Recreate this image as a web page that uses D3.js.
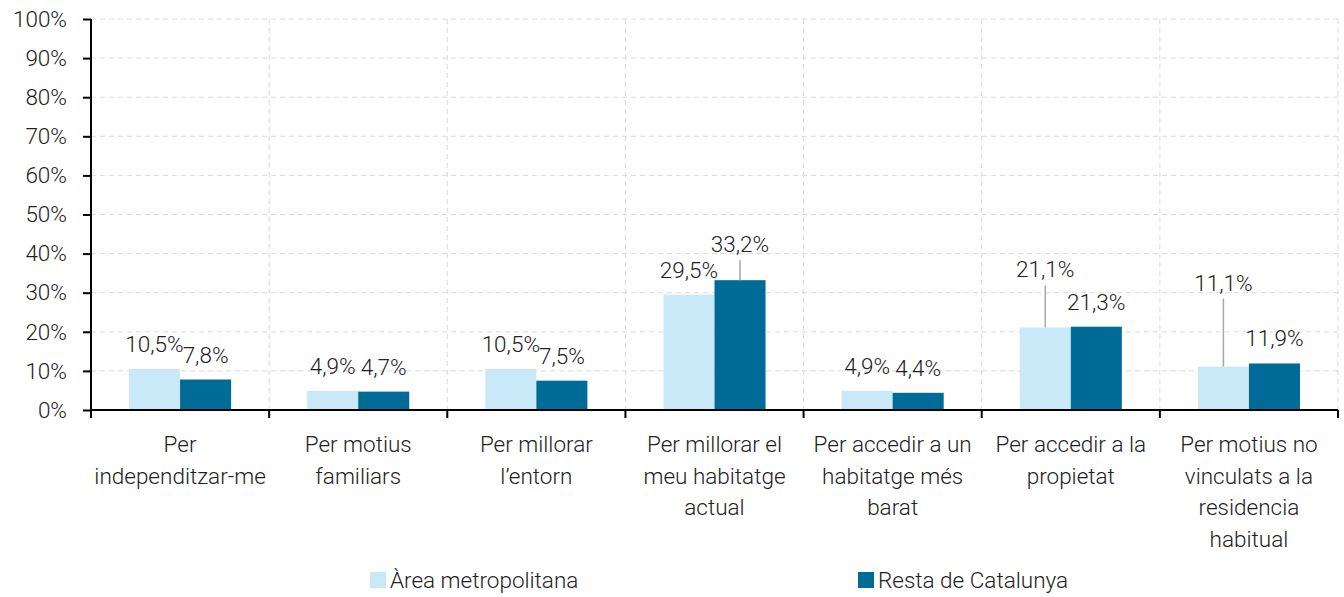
<!DOCTYPE html>
<html>
<head>
<meta charset="utf-8">
<script src="https://cdn.jsdelivr.net/npm/d3@7"></script>
<style>
  body { margin: 0; background: #fff; }
  text { font-family: "Roboto", sans-serif; font-weight: 300; fill: #222; }
</style>
</head>
<body>
<div id="chart"></div>
<script>
// data
const categories = [
    ["Per", "independitzar-me"],
    ["Per motius", "familiars"],
    ["Per millorar", "l’entorn"],
    ["Per millorar el", "meu habitatge", "actual"],
    ["Per accedir a un", "habitatge més", "barat"],
    ["Per accedir a la", "propietat"],
    ["Per motius no", "vinculats a la", "residencia", "habitual"]
]
const series = ["Àrea metropolitana", "Resta de Catalunya"]
const metro = [10.5, 4.9, 10.5, 29.5, 4.9, 21.1, 11.1]
const resta = [7.8, 4.7, 7.5, 33.2, 4.4, 21.3, 11.9]
const yTicks = [0, 10, 20, 30, 40, 50, 60, 70, 80, 90, 100]

// labels pulled up with a leader line (series index, category index, px)
const labelLift = {"1-3": 11, "0-5": 33, "0-6": 59}

const colors = ["#c9e9f8", "#006b96"]

const width = 1344
const height = 597
const margin = {top: 19, right: 6, bottom: 187, left: 91}
const fontSize = 22.5

const svg = d3.select("#chart").append("svg")
    .attr("width", width)
    .attr("height", height)

const x0 = d3.scaleBand()
    .domain(d3.range(categories.length))
    .range([margin.left, width - margin.right])

const x1 = d3.scaleBand()
    .domain(d3.range(series.length))
    .range([0, x0.bandwidth()])
    .paddingOuter(0.745)

const y = d3.scaleLinear()
    .domain([0, 100])
    .range([height - margin.bottom, margin.top])

const fmt = v => d3.format(".1f")(v).replace(".", ",") + "%"

//grid
const grid = svg.append("g")
    .attr("stroke", "#d9d9d9")
    .attr("stroke-dasharray", "5,4")
grid.selectAll(".h")
    .data(yTicks.slice(1))
    .join("line")
        .attr("x1", margin.left)
        .attr("x2", width - margin.right)
        .attr("y1", d => y(d))
        .attr("y2", d => y(d))
grid.selectAll(".v")
    .data(d3.range(1, categories.length + 1))
    .join("line")
        .attr("x1", d => x0(d - 1) + x0.bandwidth())
        .attr("x2", d => x0(d - 1) + x0.bandwidth())
        .attr("y1", margin.top)
        .attr("y2", y(0))

//bars
const values = [metro, resta]
const cells = []
categories.forEach((c, i) => {
    values.forEach((arr, s) => cells.push({i, s, v: arr[i]}))
})

svg.append("g")
    .selectAll("rect")
    .data(cells)
    .join("rect")
        .attr("x", d => x0(d.i) + x1(d.s))
        .attr("width", x1.bandwidth())
        .attr("y", d => y(d.v))
        .attr("height", d => y(0) - y(d.v))
        .attr("fill", d => colors[d.s])

//leader lines
const lifted = cells.filter(d => labelLift[d.s + "-" + d.i])
svg.append("g")
    .attr("stroke", "#a6a6a6")
    .attr("stroke-width", 1.5)
    .selectAll("line")
    .data(lifted)
    .join("line")
        .attr("x1", d => x0(d.i) + x1(d.s) + x1.bandwidth() / 2)
        .attr("x2", d => x0(d.i) + x1(d.s) + x1.bandwidth() / 2)
        .attr("y1", d => y(d.v) - 9 - labelLift[d.s + "-" + d.i])
        .attr("y2", d => y(d.v))

//value labels
svg.append("g")
    .selectAll("text")
    .data(cells)
    .join("text")
        .attr("x", d => x0(d.i) + x1(d.s) + x1.bandwidth() / 2)
        .attr("y", d => y(d.v) - 17 - (labelLift[d.s + "-" + d.i] || 0))
        .attr("text-anchor", "middle")
        .attr("font-size", fontSize)
        .text(d => fmt(d.v))

//y axis
const yAxis = svg.append("g")
    .attr("transform", `translate(${margin.left},0)`)
    .call(d3.axisLeft(y).tickValues(yTicks).tickSize(8).tickPadding(16).tickFormat(d => d + "%"))
yAxis.selectAll("path, line").attr("stroke", "#000").attr("stroke-width", 2)
yAxis.select(".domain").attr("d", `M0,${margin.top}V${y(0)}`)
yAxis.selectAll("text").attr("font-size", fontSize).attr("font-family", null).attr("fill", null)

//x axis
const xAxis = svg.append("g")
    .attr("transform", `translate(0,${y(0)})`)
xAxis.append("line")
    .attr("x1", margin.left - 1)
    .attr("x2", width - margin.right)
    .attr("stroke", "#000")
    .attr("stroke-width", 2)
xAxis.selectAll(".tick")
    .data(d3.range(categories.length + 1))
    .join("line")
        .attr("x1", d => margin.left + d * x0.step())
        .attr("x2", d => margin.left + d * x0.step())
        .attr("y1", 0)
        .attr("y2", 8)
        .attr("stroke", "#000")
        .attr("stroke-width", 2)

const catText = svg.append("g")
    .selectAll("text")
    .data(categories)
    .join("text")
        .attr("x", (d, i) => x0(i) + x0.bandwidth() / 2)
        .attr("y", y(0) + 42)
        .attr("text-anchor", "middle")
        .attr("font-size", fontSize)
catText.selectAll("tspan")
    .data(d => d)
    .join("tspan")
        .attr("x", function() { return this.parentNode.getAttribute("x") })
        .attr("dy", (d, i) => i ? 31.5 : 0)
        .text(d => d)

//legend
const legendX = [370, 858]
const legend = svg.append("g")
    .selectAll("g")
    .data(series)
    .join("g")
        .attr("transform", (d, i) => `translate(${legendX[i]},572)`)
legend.append("rect")
    .attr("width", 16)
    .attr("height", 16)
    .attr("fill", (d, i) => colors[i])
legend.append("text")
    .attr("x", 20)
    .attr("y", 16)
    .attr("font-size", fontSize)
    .text(d => d)
</script>
</body>
</html>
